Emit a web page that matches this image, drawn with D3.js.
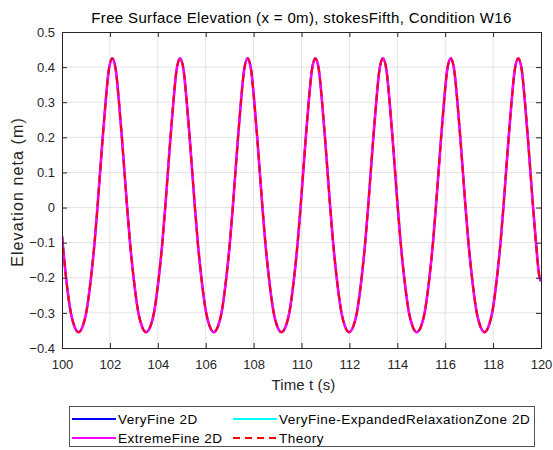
<!DOCTYPE html>
<html>
<head>
<meta charset="utf-8">
<script src="https://cdn.jsdelivr.net/npm/d3@7"></script>
<style>
  body { margin: 0; background: #fff; }
  svg { font-family: "Liberation Sans", Arial, sans-serif; }
</style>
</head>
<body>
<svg id="chart" width="553" height="450"></svg>
<script>
// time samples (s)
const timeS = [
  100.00, 100.17, 100.37, 100.50, 100.69, 100.88, 101.01, 101.21, 101.36, 101.48, 101.59, 101.70, 101.82, 101.95,
  102.10, 102.25, 102.38, 102.50, 102.61, 102.72, 102.84, 102.99, 103.19, 103.32,
  103.51, 103.71, 103.84, 104.04, 104.19, 104.31, 104.42, 104.53, 104.65, 104.78,
  104.93, 105.08, 105.21, 105.33, 105.44, 105.55, 105.67, 105.82, 106.02, 106.15,
  106.34, 106.53, 106.66, 106.86, 107.01, 107.13, 107.24, 107.35, 107.47, 107.60,
  107.75, 107.90, 108.03, 108.15, 108.26, 108.37, 108.49, 108.64, 108.84, 108.97,
  109.16, 109.36, 109.49, 109.69, 109.84, 109.96, 110.07, 110.18, 110.30, 110.43,
  110.58, 110.73, 110.86, 110.98, 111.09, 111.20, 111.32, 111.47, 111.67, 111.80,
  111.99, 112.18, 112.31, 112.51, 112.66, 112.78, 112.89, 113.00, 113.12, 113.25,
  113.40, 113.55, 113.68, 113.80, 113.91, 114.02, 114.14, 114.29, 114.49, 114.62,
  114.81, 115.01, 115.14, 115.34, 115.49, 115.61, 115.72, 115.83, 115.95, 116.08,
  116.23, 116.38, 116.51, 116.63, 116.74, 116.85, 116.97, 117.12, 117.32, 117.45,
  117.64, 117.83, 117.96, 118.16, 118.31, 118.43, 118.54, 118.65, 118.77, 118.90,
  119.05, 119.20, 119.33, 119.45, 119.56, 119.67, 119.79, 119.94, 120.00
];

// elevation (m), same for all four runs at this scale
const elevation = [
  -0.08, -0.20, -0.30, -0.335, -0.355, -0.335, -0.30, -0.20, -0.10, 0.00, 0.10, 0.20, 0.30, 0.39,
  0.425, 0.39, 0.30, 0.20, 0.10, 0.00, -0.10, -0.20, -0.30, -0.335,
  -0.355, -0.335, -0.30, -0.20, -0.10, 0.00, 0.10, 0.20, 0.30, 0.39,
  0.425, 0.39, 0.30, 0.20, 0.10, 0.00, -0.10, -0.20, -0.30, -0.335,
  -0.355, -0.335, -0.30, -0.20, -0.10, 0.00, 0.10, 0.20, 0.30, 0.39,
  0.425, 0.39, 0.30, 0.20, 0.10, 0.00, -0.10, -0.20, -0.30, -0.335,
  -0.355, -0.335, -0.30, -0.20, -0.10, 0.00, 0.10, 0.20, 0.30, 0.39,
  0.425, 0.39, 0.30, 0.20, 0.10, 0.00, -0.10, -0.20, -0.30, -0.335,
  -0.355, -0.335, -0.30, -0.20, -0.10, 0.00, 0.10, 0.20, 0.30, 0.39,
  0.425, 0.39, 0.30, 0.20, 0.10, 0.00, -0.10, -0.20, -0.30, -0.335,
  -0.355, -0.335, -0.30, -0.20, -0.10, 0.00, 0.10, 0.20, 0.30, 0.39,
  0.425, 0.39, 0.30, 0.20, 0.10, 0.00, -0.10, -0.20, -0.30, -0.335,
  -0.355, -0.335, -0.30, -0.20, -0.10, 0.00, 0.10, 0.20, 0.30, 0.39,
  0.425, 0.39, 0.30, 0.20, 0.10, 0.00, -0.10, -0.20, -0.21
];

const xTicks = [100, 102, 104, 106, 108, 110, 112, 114, 116, 118, 120];
const yTicks = [-0.4, -0.3, -0.2, -0.1, 0, 0.1, 0.2, 0.3, 0.4, 0.5];

const seriesNames = ['VeryFine 2D', 'VeryFine-ExpandedRelaxationZone 2D', 'ExtremeFine 2D', 'Theory'];
const seriesColors = ['#0000ff', '#00ffff', '#ff00ff', '#ff0000'];
const seriesWidths = [2, 2, 2.6, 1.8];
const seriesDash = [null, null, null, '7,5'];

const margin = {left: 62, right: 12, top: 32, bottom: 102};
const W = 553, H = 450;

const svg = d3.select('#chart');
const x = d3.scaleLinear().domain([100, 120]).range([margin.left, W - margin.right]);
const y = d3.scaleLinear().domain([-0.4, 0.5]).range([H - margin.bottom, margin.top]);

const axisColor = '#262626';

// grid
svg.append('g').selectAll('line').data(xTicks.slice(1, -1)).enter()
  .append('line')
    .attr('x1', d => x(d)).attr('x2', d => x(d))
    .attr('y1', y(0.5)).attr('y2', y(-0.4))
    .attr('stroke', '#e3e3e3').attr('stroke-width', 1);
svg.append('g').selectAll('line').data(yTicks.slice(1, -1)).enter()
  .append('line')
    .attr('y1', d => y(d)).attr('y2', d => y(d))
    .attr('x1', x(100)).attr('x2', x(120))
    .attr('stroke', '#e3e3e3').attr('stroke-width', 1);

// lines
svg.append('clipPath').attr('id', 'clip')
  .append('rect')
    .attr('x', x(100)).attr('y', y(0.5))
    .attr('width', x(120) - x(100)).attr('height', y(-0.4) - y(0.5));

const points = timeS.map((t, i) => [t, elevation[i]]);
const line = d3.line()
  .x(d => x(d[0]))
  .y(d => y(d[1]))
  .curve(d3.curveMonotoneX);

const plotG = svg.append('g').attr('clip-path', 'url(#clip)');
seriesNames.forEach((name, i) => {
  plotG.append('path')
    .datum(points)
    .attr('d', line)
    .attr('fill', 'none')
    .attr('stroke', seriesColors[i])
    .attr('stroke-width', seriesWidths[i])
    .attr('stroke-dasharray', seriesDash[i]);
});

// axes (box with inward ticks on all sides)
const tickLen = 5;
svg.append('g')
  .attr('transform', `translate(0,${y(-0.4)})`)
  .call(d3.axisBottom(x).tickValues(xTicks).tickSizeInner(-tickLen).tickSizeOuter(0).tickPadding(12))
  .call(g => g.selectAll('text').attr('font-size', 13).attr('fill', axisColor));
svg.append('g')
  .attr('transform', `translate(0,${y(0.5)})`)
  .call(d3.axisTop(x).tickValues(xTicks).tickSizeInner(-tickLen).tickSizeOuter(0).tickFormat(''));
svg.append('g')
  .attr('transform', `translate(${x(100)},0)`)
  .call(d3.axisLeft(y).tickValues(yTicks).tickSizeInner(-tickLen).tickSizeOuter(0).tickPadding(7)
    .tickFormat(d => d === 0 ? '0' : d3.format('.1f')(d)))
  .call(g => g.selectAll('text').attr('font-size', 13).attr('fill', axisColor));
svg.append('g')
  .attr('transform', `translate(${x(120)},0)`)
  .call(d3.axisRight(y).tickValues(yTicks).tickSizeInner(-tickLen).tickSizeOuter(0).tickFormat(''));
svg.selectAll('.domain, .tick line').attr('stroke', axisColor);

// titles
const midX = (x(100) + x(120)) / 2;
svg.append('text')
  .attr('x', midX).attr('y', 23)
  .attr('text-anchor', 'middle')
  .attr('font-size', 15).attr('letter-spacing', 0.35).attr('fill', '#000')
  .text('Free Surface Elevation (x = 0m), stokesFifth, Condition W16');
svg.append('text')
  .attr('x', midX + 2).attr('y', 390)
  .attr('text-anchor', 'middle')
  .attr('font-size', 15).attr('letter-spacing', 0.1).attr('fill', axisColor)
  .text('Time t (s)');
svg.append('text')
  .attr('transform', `translate(23,192) rotate(-90)`)
  .attr('text-anchor', 'middle')
  .attr('font-size', 16).attr('letter-spacing', 1.1).attr('fill', axisColor)
  .text('Elevation neta (m)');

// legend: 2 columns, row-major order
const legend = svg.append('g');
legend.append('rect')
  .attr('x', 69.5).attr('y', 406.5).attr('width', 465).attr('height', 40)
  .attr('fill', '#fff').attr('stroke', '#555').attr('stroke-width', 1);
const legX = [72, 233];
const legY = [419, 438];
seriesNames.forEach((name, k) => {
  const col = k % 2, row = Math.floor(k / 2);
  const lx = legX[col], ly = legY[row];
  legend.append('line')
    .attr('x1', lx).attr('x2', lx + 44).attr('y1', ly).attr('y2', ly)
    .attr('stroke', seriesColors[k]).attr('stroke-width', 2)
    .attr('stroke-dasharray', seriesDash[k]);
  legend.append('text')
    .attr('x', lx + 46).attr('y', ly + 5)
    .attr('font-size', 13.5).attr('letter-spacing', 0.5).attr('fill', '#000')
    .text(name);
});
</script>
</body>
</html>
